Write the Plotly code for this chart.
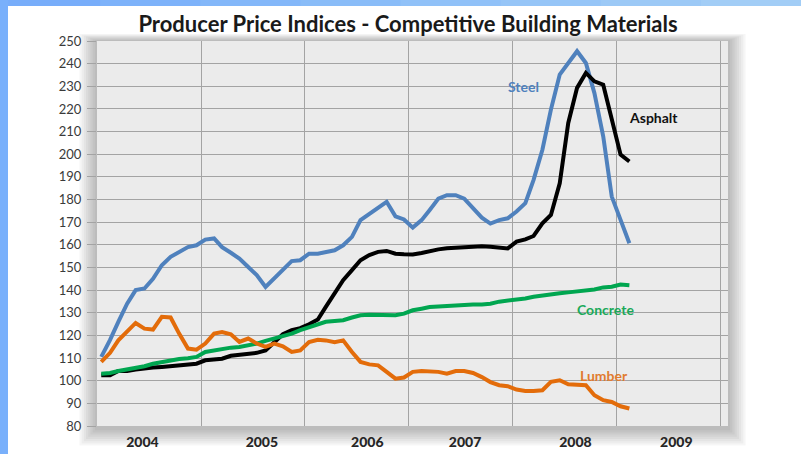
import pandas as pd
import plotly.graph_objects as go

# ---- data (monthly, Jan 2004 .. Feb 2009) ----
steel = [110.5, 118, 126, 134, 140, 140.7, 145, 151, 154.7, 157, 159, 159.8,
         162.3, 162.8, 159, 156.5, 153.9, 150.2, 146.6, 141.4, 145.1, 148.8, 152.8, 153.2,
         156.1, 156.1, 156.9, 157.6, 159.8, 163.5, 170.9, 173.5, 176, 179, 172.6, 171.2,
         167.6, 170.9, 175.3, 180.4, 181.9, 181.9, 180.4, 176, 172, 169.4, 170.9, 171.7,
         174.7, 178.4, 188.7, 202, 219.7, 235.2, 240.3, 245.5, 240.3, 227, 207.9, 181.3,
         171, 160.7]
asphalt = [102.4, 102.4, 104.3, 104.3, 104.9, 105.5, 105.8, 106.1, 106.5, 106.8, 107.1, 107.5,
           109, 109.3, 109.7, 111, 111.5, 112, 112.3, 113.4, 117.1, 120.5, 122.3, 123.2,
           124.9, 127, 132.6, 138.5, 144.4, 148.8, 153.2, 155.5, 156.9, 157.3, 156.1, 155.8,
           155.7, 156.4, 157.3, 158, 158.5, 158.8, 158.8, 159.4, 159.4, 159.1, 158.8, 158.4,
           161.4, 162.4, 163.9, 169.5, 173.2, 187.2, 213.8, 229.3, 235.9, 232.2, 230.7, 215.2,
           199.8, 196.8]
concrete = [103.1, 103.4, 104.3, 104.9, 105.8, 106.4, 107.5, 108.3, 109, 109.6, 109.9, 110.5,
            112.7, 113.4, 114.2, 114.6, 114.9, 115.6, 116.4, 117.6, 118.6, 119.6, 120.8, 122.3,
            123.7, 125.2, 126, 126.4, 126.7, 127.9, 128.9, 129.1, 128.9, 128.7, 128.9, 129.6,
            131.1, 131.8, 132.5, 132.8, 133.1, 133.3, 133.5, 133.7, 133.7, 134, 134.9, 135.4,
            135.6, 136.3, 137.1, 137.7, 138.3, 138.6, 139, 139.3, 140, 140.3, 141.2, 141.5,
            142.5, 142.2]
lumber = [108.3, 112.3, 117.8, 121.5, 125.5, 123, 122.6, 128.2, 127.9, 120.8, 114.2, 113.7,
          116.4, 120.8, 121.5, 120.5, 117.1, 118.6, 116.4, 114.9, 116.4, 115.2, 112.7, 113.4,
          117.1, 118.1, 117.8, 117, 117.8, 112.7, 108.3, 107.2, 106.8, 103.9, 100.9, 101.4,
          103.9, 104.3, 104.3, 103.9, 103.1, 104.3, 104.3, 103.4, 101.6, 99.4, 98, 97.6,
          96.1, 95.5, 95.5, 95.8, 99.5, 100.2, 98.4, 98, 98, 93.6, 91.4, 90.6,
          88.7, 87.7]
series_names = ["Steel", "Asphalt", "Concrete", "Lumber"]
year_labels = ["2004", "2005", "2006", "2007", "2008", "2009"]
year_label_dates = ["2004-06-09", "2005-08-03", "2006-08-09", "2007-07-19", "2008-08-10", "2009-07-31"]

months = pd.date_range("2004-01-01", periods=len(steel), freq="MS") + pd.Timedelta(days=15)

# ---- layout geometry (pixels) ----
FW, FH = 801, 454
L, T, W, H = 97, 41, 631, 385


def px(x):
    return (x - L) / W


def py(y):
    return (T + H - y) / H


colors = {"Steel": "#4f81bd", "Asphalt": "#000000", "Concrete": "#00a650", "Lumber": "#e36c0a"}
FONT = "Lato, 'Open Sans', sans-serif"

fig = go.Figure()
for name, vals in zip(series_names, [steel, asphalt, concrete, lumber]):
    fig.add_trace(go.Scatter(x=months, y=vals, mode="lines", name=name,
                             line=dict(color=colors[name], width=4), showlegend=False,
                             hoverinfo="skip"))

shapes = []
# blue frame strips (top and left)
top_blues = ["#77adfa", "#7db2fa", "#83b7f9", "#89bcf8", "#90c1f8", "#96c5f7", "#9cc9f6", "#a2cdf6"]
n = len(top_blues)
for k, c in enumerate(top_blues):
    x0 = k * FW / n
    x1 = (k + 1) * FW / n + 1
    shapes.append(dict(type="rect", xref="paper", yref="paper", x0=px(x0), x1=px(x1),
                       y0=py(6), y1=py(0), fillcolor=c, line=dict(width=0), layer="below"))
shapes.append(dict(type="rect", xref="paper", yref="paper", x0=px(0), x1=px(8),
                   y0=py(FH), y1=py(0), fillcolor="#79b0fb", line=dict(width=0), layer="below"))
# soft shadow around plot area
for k in range(8, 0, -1):
    d = 2.2 * k
    shapes.append(dict(type="rect", xref="paper", yref="paper",
                       x0=px(L - d), x1=px(L + W + d), y0=py(T + H + d + 2), y1=py(T - d * 0.4),
                       fillcolor="rgba(0,0,0,0.035)", line=dict(width=0), layer="below"))
# plot background
shapes.append(dict(type="rect", xref="paper", yref="paper", x0=0, x1=1, y0=0, y1=1,
                   fillcolor="#ebebeb", line=dict(width=0), layer="below"))

annotations = [
    dict(text="<b>Steel</b>", x=px(523), y=py(86), font=dict(color="#4f81bd", size=14)),
    dict(text="<b>Asphalt</b>", x=px(653), y=py(118), font=dict(color="#111111", size=14)),
    dict(text="<b>Concrete</b>", x=px(605), y=py(309), font=dict(color="#1aa95a", size=14)),
    dict(text="<b>Lumber</b>", x=px(604), y=py(375), font=dict(color="#e07b30", size=14)),
]
for a in annotations:
    a.update(xref="paper", yref="paper", showarrow=False, xanchor="center", yanchor="middle")
    a["font"]["family"] = FONT

grid = "#a3a3a3"
fig.update_layout(
    width=FW, height=FH,
    margin=dict(l=L, r=FW - L - W, t=T, b=FH - T - H, autoexpand=False),
    paper_bgcolor="white", plot_bgcolor="rgba(0,0,0,0)",
    font=dict(family=FONT),
    title=dict(text="<b>Producer Price Indices - Competitive Building Materials</b>",
               x=px(408), xref="paper", xanchor="center",
               y=1 - 24 / FH, yref="container", yanchor="middle",
               font=dict(size=22, color="#1a1a1a", family=FONT)),
    shapes=shapes, annotations=annotations,
    xaxis=dict(type="date", range=["2004-01-01", "2010-01-29"],
               tickmode="array", tickvals=year_label_dates, ticktext=year_labels,
               showgrid=False, ticks="", showline=False, zeroline=False,
               tickfont=dict(size=14, color="#262626", family="Lato Black, Lato, sans-serif"),
               ticklabelstandoff=6,
               minor=dict(tick0="2004-01-01", dtick="M12", showgrid=True,
                          gridcolor=grid, gridwidth=1.2, ticks="")),
    yaxis=dict(range=[80, 250], dtick=10, tick0=80, showgrid=True, gridcolor=grid, gridwidth=1.2,
               ticks="outside", ticklen=9, tickcolor=grid, tickwidth=1.2,
               showline=False, zeroline=False,
               tickfont=dict(size=13, color="#3a3a3a"), ticklabelstandoff=3),
)

fig.write_html("out.html", config={"displayModeBar": False},
               post_script="document.body.style.margin='0px';document.body.style.overflow='hidden';")
